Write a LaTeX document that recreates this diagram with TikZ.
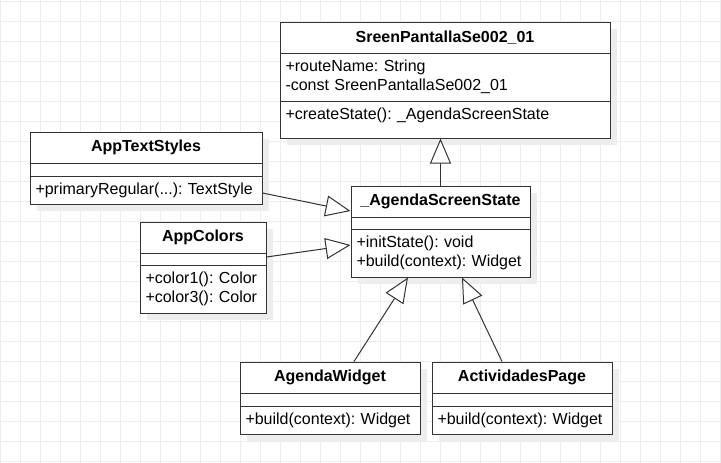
\documentclass[tikz,border=0pt]{standalone}
\usepackage{fontspec}
\setmainfont{Liberation Sans}
\frenchspacing
\usetikzlibrary{arrows.meta,shadows}
\tikzstyle{gridLine}=[draw = black!7, line width = 0.8pt]
\tikzstyle{classTitle}=[shape = rectangle, draw = black!80, fill = white, line width = 1pt, inner sep = 0pt, font = \bfseries\fontsize{16}{19}\selectfont, drop shadow = {shadow xshift = 7pt, shadow yshift = -7pt, fill = black!7, opacity = 1}]
\tikzstyle{classPart}=[shape = rectangle, draw = black!80, fill = white, line width = 1pt, inner xsep = 5.5pt, inner ysep = 0pt, align = left, font = \fontsize{16}{19}\selectfont, drop shadow = {shadow xshift = 7pt, shadow yshift = -7pt, fill = black!7, opacity = 1}]
\tikzstyle{inheritEdge}=[draw = black!80, line width = 1pt, -{Triangle[length = 25pt, width = 21pt, fill = white]}]

\begin{document}
\begin{tikzpicture}[x = 1pt, y = -1pt]
\useasboundingbox[fill = white] (0,0) rectangle (721,463);
\foreach \gx in {0,20,...,720} \draw[gridLine] (\gx,0) -- (\gx,463);
\foreach \gy in {1,21,...,461} \draw[gridLine] (0,\gy) -- (721,\gy);
% classes
\node[classTitle, minimum width = 330pt, minimum height = 31pt] (sreenTitle) at (445,37.5) {SreenPantallaSe002\_01};
\node[classPart, text width = 319pt, minimum height = 48pt] (sreenAttrs) at (445,77) {+routeName: String\\-const SreenPantallaSe002\_01};
\node[classPart, text width = 319pt, minimum height = 37pt, text depth = 12.4pt] (sreenOps) at (445,119.5) {+createState(): \_AgendaScreenState};
\node[classTitle, minimum width = 232pt, minimum height = 31pt] (stylesTitle) at (146,147.5) {AppTextStyles};
\node[classPart, text width = 221pt, minimum height = 13pt] (stylesEmpty) at (146,169.5) {};
\node[classPart, text width = 221pt, minimum height = 28pt] (stylesOps) at (146,190) {+primaryRegular(...): TextStyle};
\node[classTitle, minimum width = 126pt, minimum height = 31pt] (colorsTitle) at (203,237.5) {AppColors};
\node[classPart, text width = 115pt, minimum height = 12pt] (colorsEmpty) at (203,259) {};
\node[classPart, text width = 115pt, minimum height = 48pt] (colorsOps) at (203,289) {+color1(): Color\\+color3(): Color};
\node[classTitle, minimum width = 179pt, minimum height = 31pt] (stateTitle) at (440.5,201.5) {\_AgendaScreenState};
\node[classPart, text width = 168pt, minimum height = 12pt] (stateEmpty) at (440.5,223) {};
\node[classPart, text width = 168pt, minimum height = 48pt] (stateOps) at (440.5,253) {+initState(): void\\+build(context): Widget};
\node[classTitle, minimum width = 180pt, minimum height = 31pt] (widgetTitle) at (330,377.5) {AgendaWidget};
\node[classPart, text width = 169pt, minimum height = 13pt] (widgetEmpty) at (330,399.5) {};
\node[classPart, text width = 169pt, minimum height = 28pt] (widgetOps) at (330,420) {+build(context): Widget};
\node[classTitle, minimum width = 180pt, minimum height = 31pt] (pageTitle) at (522,377.5) {ActividadesPage};
\node[classPart, text width = 169pt, minimum height = 13pt] (pageEmpty) at (522,399.5) {};
\node[classPart, text width = 169pt, minimum height = 28pt] (pageOps) at (522,420) {+build(context): Widget};
% inheritance
\draw[inheritEdge] (stateTitle.north) -- (stateTitle.north |- sreenOps.south);
\draw[inheritEdge] ([yshift = -3pt]stylesOps.east) -- ([yshift = -9.5pt]stateTitle.west);
\draw[inheritEdge] ([yshift = 2pt]colorsEmpty.east) -- ([yshift = 8pt]stateOps.west);
\draw[inheritEdge] ([xshift = 24pt]widgetTitle.north) -- ([xshift = -32.5pt]stateOps.south);
\draw[inheritEdge] ([xshift = -20pt]pageTitle.north) -- ([xshift = 21.5pt]stateOps.south);
\end{tikzpicture}
\end{document}
